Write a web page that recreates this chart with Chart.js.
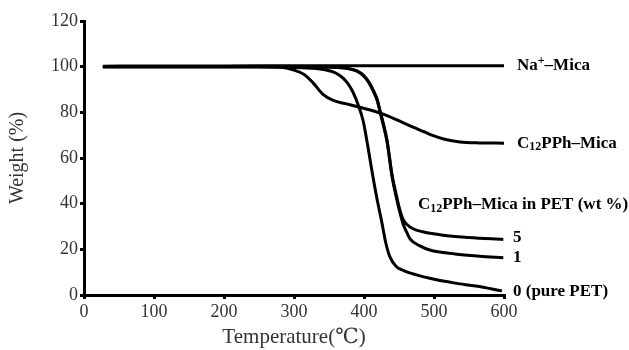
<!DOCTYPE html>
<html>
<head>
<meta charset="utf-8">
<script src="https://cdn.jsdelivr.net/npm/chart.js@4"></script>
<style>
  html, body { margin: 0; padding: 0; background: #fff; }
  #wrap { width: 629px; height: 350px; }
</style>
</head>
<body>
<div id="wrap"><canvas id="tgaChart"></canvas></div>
<script>
// TGA curves, values (temperature in °C, weight in %)
var naMicaT = [27, 100, 200, 300, 400, 500, 600];
var naMicaW = [100.2, 100.3, 100.3, 100.4, 100.4, 100.4, 100.4];

var c12T = [27, 150, 250, 280, 300, 315, 327, 341, 356, 375, 394, 415, 433, 452, 470, 486, 499, 515, 537, 565, 600];
var c12W = [100, 100, 100, 99.8, 98.5, 96.5, 93, 88, 85.2, 83.7, 82.2, 80.5, 78.6, 76, 73.5, 71.5, 69.8, 68.2, 67, 66.6, 66.5];

var pet0T = [27, 150, 250, 300, 337, 355, 366, 376, 384, 392, 399, 405, 411, 418, 426, 431, 437, 446, 456, 475, 494, 530, 560, 597];
var pet0W = [100, 100, 100, 99.6, 99, 97.8, 96, 93, 89, 83, 76, 66, 55, 43, 31, 23, 16.7, 12.5, 10.8, 8.8, 7.3, 5.2, 3.9, 1.8];

var pet1T = [27, 150, 250, 300, 347, 376, 390, 399, 407, 414, 419, 423, 428, 433, 440, 446, 451, 456, 461, 466, 480, 494, 530, 565, 599];
var pet1W = [100, 100, 100, 100, 99.8, 99.2, 98, 96, 93, 88.8, 85, 80, 74, 67, 52, 43, 36.5, 31, 27.5, 24.5, 21.5, 19.7, 18, 17, 16.3];

var pet5T = [27, 150, 250, 300, 347, 376, 390, 399, 407, 414, 419, 423, 428, 433, 440, 446, 451, 456, 461, 470, 484, 513, 550, 599];
var pet5W = [100.1, 100.1, 100.1, 100.1, 99.9, 99.3, 98.2, 96.3, 93.3, 89.2, 85.5, 80.6, 74.6, 67.6, 52.8, 44, 37.5, 33, 31, 29, 27.7, 26.2, 25.2, 24.3];

var xTicks = [0, 100, 200, 300, 400, 500, 600];
var yTicks = [0, 20, 40, 60, 80, 100, 120];

function pairs(xs, ys) {
    return xs.map(function (x, i) { return { x: x, y: ys[i] }; });
}

var serif = '"Liberation Serif", "DejaVu Serif", serif';

function curve(label, xs, ys) {
    return {
        label: label,
        data: pairs(xs, ys),
        borderColor: '#000',
        borderWidth: 3,
        pointRadius: 0,
        showLine: true,
        fill: false,
        cubicInterpolationMode: 'monotone'
    };
}

// labels at the right-hand ends of the curves
var endLabels = {
    id: 'endLabels',
    afterDatasetsDraw: function (chart) {
        var c = chart.ctx;
        var xs = chart.scales.x, ys = chart.scales.y;
        var x0 = xs.right + 13;
        c.save();
        c.fillStyle = '#000';
        c.textBaseline = 'middle';
        c.textAlign = 'left';

        function pieces(x, y, parts) {
            parts.forEach(function (p) {
                var size = p.s ? 12 : 17;
                var dy = p.s === 'sup' ? -5 : (p.s === 'sub' ? 4 : 0);
                c.font = 'bold ' + size + 'px ' + serif;
                c.fillText(p.t, x, y + dy);
                x += c.measureText(p.t).width;
            });
        }

        pieces(x0, ys.getPixelForValue(naMicaW[naMicaW.length - 1]),
            [{ t: 'Na' }, { t: '+', s: 'sup' }, { t: '\u2013Mica' }]);
        pieces(x0, ys.getPixelForValue(c12W[c12W.length - 1]),
            [{ t: 'C' }, { t: '12', s: 'sub' }, { t: 'PPh\u2013Mica' }]);
        pieces(xs.getPixelForValue(477), ys.getPixelForValue(39.5),
            [{ t: 'C' }, { t: '12', s: 'sub' }, { t: 'PPh\u2013Mica in PET (wt %)' }]);
        pieces(x0 - 4, ys.getPixelForValue(25), [{ t: '5' }]);
        pieces(x0 - 4, ys.getPixelForValue(16.5), [{ t: '1' }]);
        pieces(x0 - 4, ys.getPixelForValue(1.5), [{ t: '0 (pure PET)' }]);
        c.restore();
    }
};

var ctx = document.getElementById('tgaChart');

new Chart(ctx, {
    type: 'scatter',
    data: {
        datasets: [
            curve('Na+-Mica', naMicaT, naMicaW),
            curve('C12PPh-Mica', c12T, c12W),
            curve('0 (pure PET)', pet0T, pet0W),
            curve('1', pet1T, pet1W),
            curve('5', pet5T, pet5W)
        ]
    },
    options: {
        responsive: true,
        maintainAspectRatio: false,
        animation: false,
        layout: { padding: { top: 21, right: 125, left: 0, bottom: 0 } },
        plugins: {
            legend: { display: false },
            tooltip: { enabled: false }
        },
        scales: {
            x: {
                type: 'linear',
                min: 0,
                max: 600,
                afterBuildTicks: function (s) { s.ticks = xTicks.map(function (v) { return { value: v }; }); },
                afterFit: function (s) { s.height = 55; },
                grid: { drawOnChartArea: false, drawTicks: true, tickLength: 4, color: '#000', lineWidth: 3 },
                border: { display: true, color: '#000', width: 3 },
                ticks: { color: '#333', padding: 2, font: { family: serif, size: 18 } },
                title: {
                    display: true,
                    text: 'Temperature(℃)',
                    color: '#333',
                    padding: { top: 4, bottom: 0 },
                    font: { family: serif, size: 21 }
                }
            },
            y: {
                min: 0,
                max: 120,
                afterBuildTicks: function (s) { s.ticks = yTicks.map(function (v) { return { value: v }; }); },
                afterFit: function (s) { s.width = 84; },
                grid: { drawOnChartArea: false, drawTicks: true, tickLength: 4, color: '#000', lineWidth: 3 },
                border: { display: true, color: '#000', width: 3 },
                ticks: { color: '#333', padding: 2, font: { family: serif, size: 18 } },
                title: {
                    display: true,
                    text: 'Weight (%)',
                    color: '#333',
                    padding: { top: 6, bottom: 0 },
                    font: { family: serif, size: 20 }
                }
            }
        }
    },
    plugins: [endLabels]
});
</script>
</body>
</html>
